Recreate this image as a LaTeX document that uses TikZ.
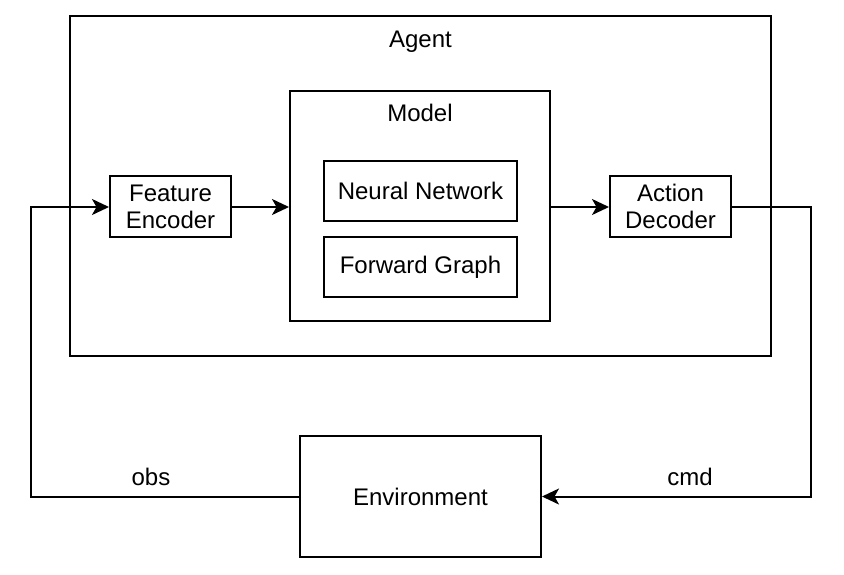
\documentclass[tikz,border=0pt]{standalone}
\usepackage{fontspec}
\setmainfont{Liberation Sans}
\usetikzlibrary{arrows.meta}
\begin{document}
\begin{tikzpicture}[x=1pt,y=-1pt,
  box/.style={draw,line width=2pt,inner sep=0pt,align=center,font=\fontsize{24}{27}\selectfont},
  lbl/.style={inner sep=0pt,anchor=base,font=\fontsize{24}{27}\selectfont},
  conn/.style={line width=2pt,-{Stealth[length=17pt,width=16pt,inset=4.5pt]}},
  ]
\useasboundingbox (0,0) rectangle (844,574);
\node[box,minimum width=701pt,minimum height=340pt] (agent) at (420.5,186) {};
\node[lbl] (agentlbl) at (420.5,47.5) {Agent};
\node[box,minimum width=260pt,minimum height=230pt] (model) at (420,206) {};
\node[lbl] (modellbl) at (420,121.5) {Model};
\node[box,minimum width=193pt,minimum height=60pt] (nn) at (420.5,191) {Neural Network};
\node[box,minimum width=193pt,minimum height=60pt] (fg) at (420.5,267) {Forward Graph};
\node[box,minimum width=121pt,minimum height=61pt] (fe) at (170.5,206.5) {Feature\\Encoder};
\node[box,minimum width=121pt,minimum height=61pt] (ad) at (670.5,206.5) {Action\\Decoder};
\node[box,minimum width=241pt,minimum height=121pt] (env) at (420.5,496.5) {Environment};
\coordinate (c1) at (810.5,207);
\coordinate (c2) at (810.5,496.5);
\coordinate (c3) at (31,496.5);
\coordinate (c4) at (31,207);
\draw[conn] (fe.east |- 0,207) -- (model.west |- 0,207);
\draw[conn] (model.east |- 0,207) -- (ad.west |- 0,207);
\draw[conn] (ad.east |- c1) -- (c1) -- (c2) -- (env.east |- c2);
\draw[conn] (env.west |- c3) -- (c3) -- (c4) -- (fe.west |- c4);
\node[lbl] (obs) at (151,485.5) {obs};
\node[lbl] (cmd) at (690,485.5) {cmd};
\end{tikzpicture}
\end{document}
